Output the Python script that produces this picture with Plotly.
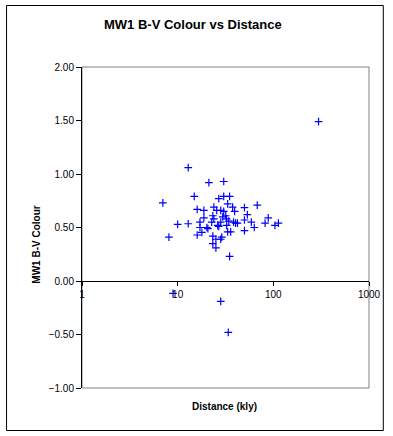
import plotly.graph_objects as go

# Distance (kly) and B-V colour
distance_kly = [12.9, 21.2, 30.3, 14.9, 26.9, 30.3, 34.9, 7.0, 33.3, 23.9,
                37.5, 49.9, 67.9, 16.0, 18.8, 25.6, 28.2, 30.3, 39.4, 23.3,
                31.8, 53.5, 18.8, 23.9, 29.6, 32.5, 34.2, 49.9, 88.5, 17.1,
                22.7, 28.2, 38.4, 42.2, 58.9, 82.0, 10.0, 12.9, 26.2, 32.5,
                40.3, 104.0, 113.0, 17.1, 20.2, 20.7, 26.9, 49.9, 63.2, 17.9,
                16.0, 8.1, 23.3, 28.9, 33.3, 35.8, 25.1, 28.2, 23.3, 25.1,
                34.9, 297.0, 8.95, 28.2, 33.8]
bv_colour = [1.06, 0.92, 0.93, 0.79, 0.77, 0.79, 0.79, 0.73, 0.72, 0.69,
             0.69, 0.685, 0.71, 0.67, 0.66, 0.66, 0.66, 0.65, 0.65, 0.61,
             0.61, 0.62, 0.59, 0.58, 0.60, 0.58, 0.56, 0.57, 0.59, 0.55,
             0.55, 0.55, 0.55, 0.54, 0.55, 0.54, 0.53, 0.535, 0.52, 0.52,
             0.54, 0.52, 0.54, 0.50, 0.50, 0.49, 0.51, 0.47, 0.50, 0.455,
             0.43, 0.41, 0.42, 0.41, 0.46, 0.46, 0.39, 0.39, 0.35, 0.31,
             0.23, 1.49, -0.115, -0.19, -0.48]

x_tickvals = [1, 10, 100, 1000]
x_ticktext = ["1", "10", "100", "1000"]
y_tickvals = [-1.0, -0.5, 0.0, 0.5, 1.0, 1.5, 2.0]

FONT = "Liberation Sans, Arial, sans-serif"

fig = go.Figure()
fig.add_trace(go.Scatter(
    x=distance_kly, y=bv_colour, mode="markers",
    marker=dict(symbol="cross-thin", size=5.5, color="#0000FF",
                line=dict(color="#0000FF", width=1.2)),
    hoverinfo="x+y", showlegend=False,
))

W, H = 393, 436
L, R, T, B = 82, 373, 67, 388
pw, ph = R - L, B - T

def px_x(p):
    return (p - L) / pw

def px_y(p):
    return (B - p) / ph

fig.update_layout(
    width=W, height=H,
    margin=dict(l=L, r=W - R, t=T, b=H - B, pad=0),
    paper_bgcolor="white", plot_bgcolor="white",
    font=dict(family=FONT, size=10, color="black"),
    xaxis=dict(type="log", range=[0, 3], tickvals=x_tickvals, ticktext=x_ticktext,
               showgrid=False, zeroline=False, showline=True, linecolor="black",
               linewidth=1, ticks="outside", ticklen=4, tickcolor="black",
               anchor="free", position=1 / 3,
               tickfont=dict(family=FONT, size=10, color="black")),
    yaxis=dict(range=[-1, 2], tickvals=y_tickvals, tickformat=".2f",
               showgrid=False, zeroline=False, showline=True, linecolor="black",
               linewidth=1, ticks="outside", ticklen=5, tickcolor="black",
               tickfont=dict(family=FONT, size=10, color="black")),
    shapes=[
        dict(type="rect", xref="paper", yref="paper", x0=0, x1=1, y0=0, y1=1,
             line=dict(color="#808080", width=1), layer="below"),
        dict(type="rect", xref="paper", yref="paper",
             x0=px_x(5.5), x1=px_x(387.5), y0=px_y(430.5), y1=px_y(5.5),
             line=dict(color="black", width=1), layer="below"),
    ],
    annotations=[
        dict(text="<b>MW1 B-V Colour vs Distance</b>", xref="paper", yref="paper",
             x=px_x(195), y=px_y(25), showarrow=False, xanchor="center", yanchor="middle",
             font=dict(family=FONT, size=13, color="black")),
        dict(text="<b>Distance (kly)</b>", xref="paper", yref="paper",
             x=px_x(226), y=px_y(406), showarrow=False, xanchor="center", yanchor="middle",
             font=dict(family=FONT, size=10, color="black")),
        dict(text="<b>MW1 B-V Colour</b>", xref="paper", yref="paper",
             x=px_x(35), y=px_y(245), showarrow=False, xanchor="center", yanchor="middle",
             textangle=-90, font=dict(family=FONT, size=10, color="black")),
    ],
)

fig.write_html("out.html",
               config={"displayModeBar": False},
               post_script="document.body.style.margin='0';document.body.style.overflow='hidden';")
